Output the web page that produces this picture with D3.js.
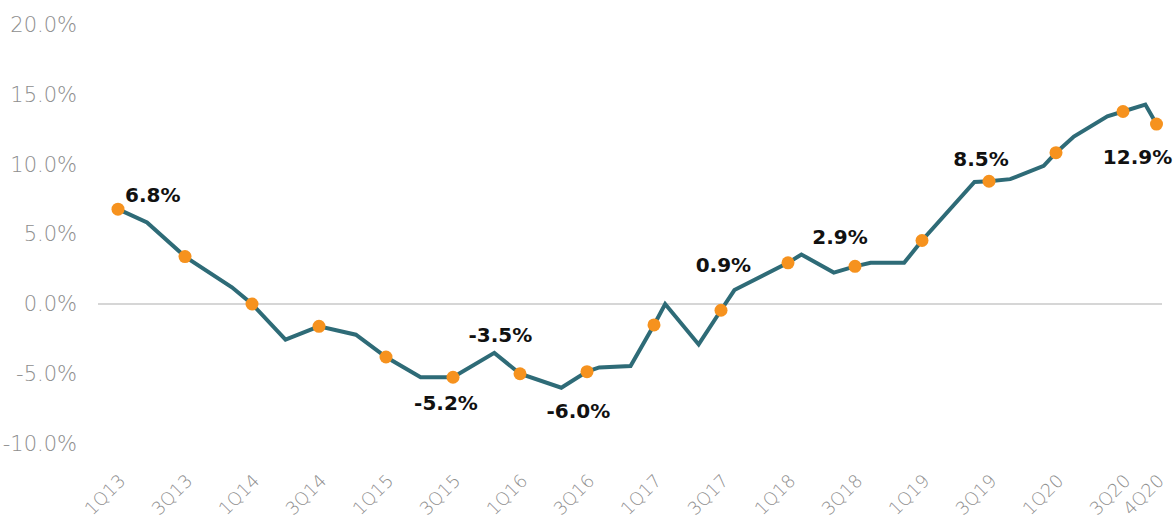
<!DOCTYPE html>
<html>
<head>
<meta charset="utf-8">
<script src="https://cdn.jsdelivr.net/npm/d3@7"></script>
<style>
  html, body { margin: 0; padding: 0; background: #fff; }
  svg { display: block; }
  .tick text { font-family: "DejaVu Sans", sans-serif; font-weight: 200; fill: #8e8e8e; }
  .anno { font-family: "DejaVu Sans", sans-serif; font-weight: bold; font-size: 20px; fill: #111; }
</style>
</head>
<body>
<div id="chart"></div>
<script>
// Tick / dot positions, in months since 1Q13
const dotMonths = [0, 6, 12, 18, 24, 30, 36, 42, 48, 54, 60, 66, 72, 78, 84, 90, 93];
const dotLabels = ["1Q13", "3Q13", "1Q14", "3Q14", "1Q15", "3Q15", "1Q16", "3Q16", "1Q17",
                   "3Q17", "1Q18", "3Q18", "1Q19", "3Q19", "1Q20", "3Q20", "4Q20"];
const dotValues = [6.8, 3.4, 0.0, -1.6, -3.8, -5.25, -5.0, -4.85, -1.5, -0.45, 2.95, 2.7,
                   4.55, 8.8, 10.85, 13.8, 12.9];

// Line series (vertices)
const lineMonths = [0, 2.6, 6, 10.2, 12, 15, 18, 21.3, 24, 27.1, 30, 33.7, 36, 39.7, 42, 43.1,
                    45.9, 48, 49, 52, 54, 55.2, 60, 61.2, 64.1, 66, 67.4, 70.4, 72, 76.7, 78,
                    79.9, 82.9, 84, 85.6, 88.6, 90, 92, 93];
const lineValues = [6.8, 5.85, 3.4, 1.2, 0.0, -2.55, -1.6, -2.2, -3.8, -5.25, -5.25, -3.5, -5.0,
                    -6.0, -4.85, -4.55, -4.45, -1.5, 0.0, -2.9, -0.45, 1.0, 2.95, 3.55, 2.25,
                    2.7, 2.95, 2.95, 4.55, 8.75, 8.8, 8.95, 9.9, 10.85, 12.0, 13.45, 13.8,
                    14.3, 12.9];

// Y axis ticks
const yTicks = [-10, -5, 0, 5, 10, 15, 20];

// Annotations: text and the point each one refers to
const annoText   = ["6.8%", "-3.5%", "-5.2%", "-6.0%", "0.9%", "2.9%", "8.5%", "12.9%"];
const annoMonth  = [0, 33.7, 30, 39.7, 55.2, 66, 78, 93];
const annoValue  = [6.8, -3.5, -5.25, -6.0, 1.0, 2.7, 8.8, 12.9];
// label placement relative to that point (layout only)
const annoLayout = [
  { dx: 7, dy: -14, anchor: "start" },
  { dx: 6, dy: -18, anchor: "middle" },
  { dx: -7, dy: 26, anchor: "middle" },
  { dx: 17, dy: 23, anchor: "middle" },
  { dx: -11, dy: -25, anchor: "middle" },
  { dx: -15, dy: -30, anchor: "middle" },
  { dx: -8, dy: -22, anchor: "middle" },
  { dx: -19, dy: 33, anchor: "middle" }
];

const W = 1175, H = 520;

const svg = d3.select("#chart").append("svg")
  .attr("width", W)
  .attr("height", H);

const x = d3.scaleLinear().domain([0, 93]).range([118, 1156.5]);
const y = d3.scaleLinear().domain([-10, 20]).range([443.5, 25]);

// Y axis (labels only)
svg.append("g")
  .attr("transform", "translate(80,0)")
  .call(d3.axisLeft(y).tickValues(yTicks).tickSize(0).tickPadding(3)
    .tickFormat(d => d.toFixed(1) + "%"))
  .call(g => g.select(".domain").remove())
  .selectAll("text")
  .style("font-size", "21px");

// Zero line
svg.append("line")
  .attr("x1", 98).attr("x2", 1162)
  .attr("y1", y(0)).attr("y2", y(0))
  .attr("stroke", "#d6d6d6")
  .attr("stroke-width", 2);

// X axis (rotated labels only)
svg.append("g")
  .attr("transform", "translate(0,468)")
  .call(d3.axisBottom(x).tickValues(dotMonths).tickSize(0).tickPadding(0)
    .tickFormat((d, i) => dotLabels[i]))
  .call(g => g.select(".domain").remove())
  .selectAll("text")
  .style("font-size", "18px")
  .attr("text-anchor", "end")
  .attr("dy", "0")
  .attr("y", 0)
  .attr("transform", "translate(8,14) rotate(-45)");

// Line
const line = d3.line().x(d => x(d[0])).y(d => y(d[1]));
svg.append("path")
  .datum(d3.zip(lineMonths, lineValues))
  .attr("fill", "none")
  .attr("stroke", "#2e6b77")
  .attr("stroke-width", 4)
  .attr("stroke-linejoin", "miter")
  .attr("d", line);

// Dots
svg.append("g").selectAll("circle")
  .data(d3.zip(dotMonths, dotValues))
  .join("circle")
  .attr("cx", d => x(d[0]))
  .attr("cy", d => y(d[1]))
  .attr("r", 6.5)
  .attr("fill", "#f6921e");

// Annotations
svg.append("g").selectAll("text")
  .data(annoText)
  .join("text")
  .attr("class", "anno")
  .attr("x", (d, i) => x(annoMonth[i]) + annoLayout[i].dx)
  .attr("y", (d, i) => y(annoValue[i]) + annoLayout[i].dy)
  .attr("dy", "0.36em")
  .attr("text-anchor", (d, i) => annoLayout[i].anchor)
  .text(d => d);
</script>
</body>
</html>
